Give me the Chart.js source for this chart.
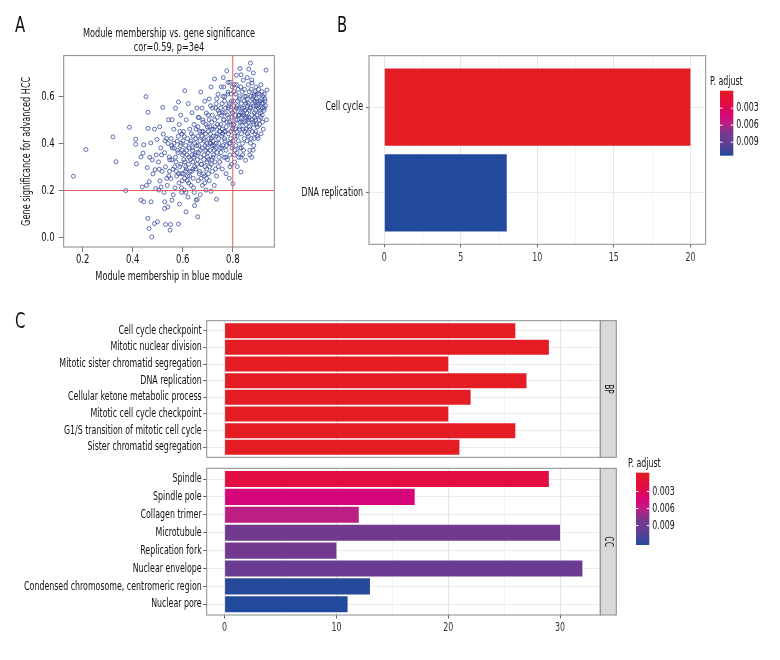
<!DOCTYPE html>
<html>
<head>
<meta charset="utf-8">
<script src="https://cdn.jsdelivr.net/npm/chart.js@4.4.1/dist/chart.umd.min.js"></script>
<style>
  body { margin: 0; background: #fff; }
  #fig { position: relative; width: 780px; height: 660px; font-family: "DejaVu Sans Condensed", "DejaVu Sans", sans-serif; }
  #fig canvas { position: absolute; }
  .tag { position: absolute; font-size: 22px; color: #111; line-height: 1; transform: scaleX(0.75); transform-origin: left top; }
</style>
</head>
<body>
<div id="fig">
  <canvas id="scatterA" width="290" height="295" style="left:0;top:0"></canvas>
  <canvas id="keggB" width="490" height="295" style="left:290px;top:0"></canvas>
  <canvas id="goBP" width="780" height="154" style="left:0;top:312px"></canvas>
  <canvas id="goCC" width="780" height="205" style="left:0;top:455px"></canvas>
  <div class="tag" style="left:15px;top:14px">A</div>
  <div class="tag" style="left:337px;top:14px">B</div>
  <div class="tag" style="left:15px;top:310px">C</div>
</div>
<script>
const FONT = '"DejaVu Sans Condensed", "DejaVu Sans", sans-serif';

// ---- panel A: module membership vs gene significance ----
const scatterTitle = ['Module membership vs. gene significance', 'cor=0.59, p=3e4'];
const mmTicks = [0.2, 0.4, 0.6, 0.8];
const gsTicks = [0.0, 0.2, 0.4, 0.6];
const mmCutoff = 0.8;
const gsCutoff = 0.2;
// [module membership, gene significance]
const genePoints = [
  [0.163,0.261],[0.213,0.375],[0.321,0.429],[0.333,0.323],[0.387,0.470],[0.372,0.200],[0.412,0.419],[0.412,0.397],
  [0.415,0.314],[0.433,0.343],[0.438,0.215],[0.441,0.360],
  [0.453,0.601],[0.461,0.534],[0.487,0.462],[0.472,0.403],[0.494,0.352],[0.458,0.298],[0.481,0.271],[0.466,0.238],
  [0.492,0.208],[0.433,0.159],[0.444,0.152],[0.460,0.081],[0.465,0.038],[0.476,0.002],[0.497,0.418],[0.478,0.331],
  [0.489,0.289],[0.455,0.222],[0.473,0.152],[0.487,0.059],[0.444,0.395],[0.461,0.465],[0.499,0.067],[0.468,0.342],
  [0.520,0.555],[0.508,0.472],[0.535,0.422],[0.541,0.401],[0.512,0.382],[0.527,0.361],[0.546,0.343],[0.503,0.322],
  [0.531,0.301],[0.517,0.282],[0.544,0.262],[0.509,0.241],[0.538,0.222],[0.513,0.215],[0.525,0.192],[0.528,0.152],
  [0.527,0.123],[0.540,0.130],[0.531,0.055],[0.549,0.031],[0.551,0.055],[0.522,0.441],[0.548,0.331],[0.506,0.291],
  [0.536,0.252],[0.515,0.352],[0.543,0.502],[0.529,0.412],[0.504,0.202],[0.547,0.282],
  [0.583,0.578],[0.571,0.551],[0.592,0.522],[0.557,0.502],[0.586,0.482],[0.564,0.462],[0.597,0.441],[0.553,0.422],
  [0.578,0.411],[0.591,0.392],[0.566,0.381],[0.581,0.362],[0.599,0.352],[0.556,0.331],[0.573,0.322],[0.588,0.302],
  [0.561,0.291],[0.594,0.272],[0.576,0.262],[0.552,0.251],[0.585,0.232],[0.569,0.212],[0.596,0.192],[0.562,0.182],
  [0.557,0.159],[0.587,0.142],[0.583,0.057],[0.579,0.372],[0.592,0.312],[0.558,0.382],[0.574,0.282],[0.598,0.242],
  [0.565,0.402],[0.589,0.452],
  [0.608,0.626],[0.622,0.571],[0.637,0.532],[0.614,0.502],[0.645,0.482],[0.628,0.462],[0.603,0.452],[0.641,0.432],
  [0.619,0.422],[0.633,0.411],[0.648,0.401],[0.611,0.392],[0.626,0.381],[0.639,0.371],[0.604,0.362],[0.617,0.352],
  [0.644,0.342],[0.631,0.332],[0.609,0.322],[0.623,0.312],[0.648,0.302],[0.614,0.292],[0.636,0.282],[0.602,0.272],
  [0.627,0.262],[0.642,0.252],[0.618,0.242],[0.633,0.222],[0.606,0.202],[0.646,0.192],[0.621,0.172],[0.613,0.109],
  [0.653,0.159],[0.647,0.136],[0.638,0.382],[0.612,0.302],[0.629,0.282],[0.649,0.352],[0.601,0.412],[0.624,0.342],
  [0.640,0.322],[0.607,0.252],[0.635,0.442],
  [0.672,0.621],[0.688,0.581],[0.657,0.552],[0.694,0.531],[0.665,0.512],[0.681,0.492],[0.698,0.472],[0.653,0.462],
  [0.676,0.452],[0.691,0.442],[0.661,0.432],[0.684,0.422],[0.669,0.412],[0.696,0.401],[0.655,0.392],[0.678,0.381],
  [0.692,0.371],[0.663,0.362],[0.685,0.352],[0.671,0.342],[0.659,0.332],[0.697,0.322],[0.674,0.312],[0.689,0.302],
  [0.652,0.292],[0.667,0.282],[0.683,0.272],[0.695,0.252],[0.662,0.242],[0.679,0.222],[0.693,0.202],[0.670,0.182],
  [0.658,0.162],[0.660,0.088],[0.686,0.412],[0.654,0.362],[0.675,0.312],[0.699,0.342],[0.664,0.392],[0.687,0.262],
  [0.668,0.452],[0.680,0.501],[0.696,0.292],
  [0.727,0.676],[0.713,0.642],[0.741,0.611],[0.706,0.591],[0.734,0.571],[0.719,0.552],[0.746,0.532],[0.702,0.522],
  [0.728,0.502],[0.715,0.492],[0.739,0.482],[0.708,0.472],[0.724,0.462],[0.748,0.452],[0.711,0.442],[0.733,0.432],
  [0.704,0.422],[0.721,0.412],[0.744,0.401],[0.717,0.392],[0.731,0.381],[0.709,0.371],[0.737,0.362],[0.723,0.352],
  [0.745,0.342],[0.703,0.332],[0.729,0.322],[0.714,0.312],[0.742,0.302],[0.718,0.282],[0.735,0.262],[0.706,0.242],
  [0.726,0.222],[0.713,0.197],[0.735,0.163],[0.747,0.452],[0.712,0.401],[0.738,0.512],[0.722,0.432],[0.701,0.362],
  [0.749,0.381],[0.716,0.462],[0.732,0.552],[0.743,0.422],[0.707,0.302],[0.725,0.392],
  [0.776,0.711],[0.762,0.682],[0.789,0.662],[0.754,0.642],[0.781,0.621],[0.768,0.601],[0.795,0.582],[0.757,0.571],
  [0.784,0.562],[0.771,0.552],[0.792,0.542],[0.759,0.532],[0.778,0.522],[0.796,0.512],[0.764,0.502],[0.787,0.492],
  [0.752,0.482],[0.774,0.472],[0.799,0.462],[0.766,0.452],[0.783,0.442],[0.756,0.432],[0.791,0.422],[0.769,0.412],
  [0.785,0.401],[0.761,0.392],[0.797,0.381],[0.773,0.372],[0.753,0.362],[0.788,0.352],[0.765,0.342],[0.779,0.332],
  [0.794,0.312],[0.758,0.292],[0.773,0.272],[0.786,0.252],[0.800,0.229],[0.763,0.502],[0.782,0.552],[0.771,0.452],
  [0.798,0.532],[0.755,0.522],[0.793,0.482],[0.767,0.582],[0.780,0.612],[0.790,0.402],[0.760,0.442],
  [0.829,0.721],[0.814,0.692],[0.833,0.694],[0.842,0.671],[0.806,0.652],[0.821,0.632],[0.838,0.622],[0.811,0.612],
  [0.847,0.602],[0.826,0.592],[0.803,0.582],[0.835,0.572],[0.818,0.562],[0.844,0.552],[0.809,0.542],[0.831,0.532],
  [0.823,0.522],[0.848,0.512],[0.813,0.502],[0.837,0.492],[0.805,0.482],[0.827,0.472],[0.841,0.462],[0.816,0.452],
  [0.834,0.442],[0.808,0.432],[0.846,0.422],[0.822,0.412],[0.839,0.401],[0.812,0.392],[0.828,0.382],[0.843,0.372],
  [0.817,0.362],[0.832,0.342],[0.807,0.322],[0.833,0.279],[0.815,0.552],[0.826,0.522],[0.845,0.582],[0.802,0.482],
  [0.836,0.512],[0.819,0.582],[0.849,0.542],[0.810,0.462],[0.824,0.552],[0.840,0.532],[0.804,0.622],[0.830,0.492],
  [0.818,0.302],
  [0.871,0.744],[0.864,0.718],[0.882,0.702],[0.858,0.682],[0.877,0.659],[0.893,0.642],[0.866,0.622],[0.886,0.612],
  [0.854,0.602],[0.879,0.592],[0.897,0.582],[0.862,0.572],[0.884,0.562],[0.869,0.552],[0.891,0.542],[0.856,0.532],
  [0.875,0.522],[0.888,0.512],[0.861,0.502],[0.881,0.492],[0.895,0.482],[0.867,0.472],[0.852,0.462],[0.878,0.452],
  [0.889,0.442],[0.863,0.432],[0.873,0.422],[0.857,0.412],[0.884,0.392],[0.868,0.372],[0.851,0.329],[0.876,0.342],
  [0.887,0.582],[0.872,0.552],[0.896,0.522],[0.859,0.562],[0.883,0.602],[0.894,0.562],[0.865,0.512],[0.898,0.612],
  [0.874,0.632],[0.853,0.482],[0.892,0.452],
  [0.933,0.714],[0.937,0.629],[0.912,0.652],[0.905,0.612],[0.921,0.602],[0.928,0.592],[0.909,0.582],[0.916,0.572],
  [0.931,0.562],[0.903,0.552],[0.925,0.542],[0.918,0.522],[0.935,0.502],[0.907,0.482],[0.922,0.462],[0.913,0.442],
  [0.901,0.422],[0.926,0.552],[0.911,0.532],[0.929,0.582],[0.904,0.572],[0.919,0.492],
  // denser core of the cloud
  [0.556,0.392],[0.571,0.342],[0.593,0.402],[0.604,0.332],[0.616,0.372],[0.629,0.402],[0.641,0.292],[0.606,0.431],
  [0.619,0.262],[0.652,0.422],[0.583,0.272],[0.598,0.372],[0.611,0.282],[0.637,0.352],[0.582,0.432],[0.624,0.232],
  [0.568,0.302],[0.643,0.212],[0.595,0.212],[0.612,0.192],
  [0.661,0.472],[0.677,0.432],[0.689,0.392],[0.702,0.452],[0.714,0.422],[0.726,0.372],[0.738,0.442],[0.657,0.312],
  [0.671,0.372],[0.684,0.332],[0.698,0.382],[0.709,0.402],[0.721,0.342],[0.734,0.402],[0.746,0.472],[0.666,0.272],
  [0.682,0.452],[0.693,0.482],[0.705,0.502],[0.718,0.522],[0.729,0.472],[0.741,0.542],[0.673,0.252],[0.688,0.232],
  [0.703,0.272],[0.716,0.332],[0.731,0.292],[0.748,0.322],[0.662,0.512],[0.677,0.552],[0.711,0.562],[0.736,0.592],
  [0.752,0.552],[0.761,0.602],[0.769,0.532],[0.777,0.492],[0.786,0.572],[0.794,0.612],[0.803,0.562],[0.811,0.522],
  [0.819,0.502],[0.827,0.602],[0.836,0.552],[0.844,0.492],[0.758,0.462],[0.767,0.422],[0.775,0.392],[0.784,0.512],
  [0.792,0.452],[0.801,0.412],[0.809,0.372],[0.817,0.432],[0.826,0.462],[0.834,0.382],[0.842,0.522],[0.849,0.452],
  [0.756,0.382],[0.772,0.342],[0.789,0.302],[0.806,0.352],[0.823,0.342],[0.839,0.352],[0.764,0.642],[0.781,0.662],
  [0.798,0.642],[0.815,0.652],[0.832,0.642],[0.847,0.632],
  [0.852,0.572],[0.859,0.592],[0.866,0.542],[0.873,0.602],[0.880,0.572],[0.887,0.532],[0.894,0.592],[0.901,0.562],
  [0.908,0.542],[0.915,0.592],[0.922,0.572],[0.856,0.512],[0.863,0.492],[0.870,0.462],[0.877,0.502],[0.884,0.482],
  [0.891,0.502],[0.898,0.472],[0.905,0.502],[0.912,0.512],[0.919,0.552],[0.926,0.612],[0.862,0.652],[0.876,0.672],
  [0.889,0.622],[0.903,0.632],[0.917,0.622],[0.858,0.442],[0.871,0.402],[0.885,0.422],[0.899,0.432],[0.868,0.352],
  [0.881,0.372]
];

// ---- panel B: KEGG ----
const keggTerms = ['Cell cycle', 'DNA replication'];
const keggCounts = [20, 8];
const keggPAdjust = [0.0002, 0.0111];
const keggGrid = [0, 2.5, 5, 7.5, 10, 12.5, 15, 17.5, 20];
const keggTicks = [0, 5, 10, 15, 20];

// ---- panel C: GO ----
const bpTerms = ['Cell cycle checkpoint', 'Mitotic nuclear division', 'Mitotic sister chromatid segregation',
  'DNA replication', 'Cellular ketone metabolic process', 'Mitotic cell cycle checkpoint',
  'G1/S transition of mitotic cell cycle', 'Sister chromatid segregation'];
const bpCounts = [26, 29, 20, 27, 22, 20, 26, 21];
const bpPAdjust = [0.00001, 0.00001, 0.00002, 0.00001, 0.00003, 0.00002, 0.00001, 0.00002];
const ccTerms = ['Spindle', 'Spindle pole', 'Collagen trimer', 'Microtubule', 'Replication fork',
  'Nuclear envelope', 'Condensed chromosome, centromeric region', 'Nuclear pore'];
const ccCounts = [29, 17, 12, 30, 10, 32, 13, 11];
const ccPAdjust = [0.0023, 0.0046, 0.0061, 0.0085, 0.0084, 0.0091, 0.0119, 0.0121];
const goGrid = [0, 5, 10, 15, 20, 25, 30];
const goTicks = [0, 10, 20, 30];
const legendBreaks = [0.003, 0.006, 0.009];

// red -> magenta -> purple -> blue, as printed
const fillStops = [
  [0.00, [228, 28, 36]],
  [0.20, [226, 12, 66]],
  [0.38, [214, 6, 122]],
  [0.50, [190, 30, 132]],
  [0.66, [118, 56, 142]],
  [0.80, [100, 62, 146]],
  [1.00, [34, 74, 156]]
];

function fillFor(p, lim) {
  let t = (p - lim[0]) / (lim[1] - lim[0]);
  t = Math.max(0, Math.min(1, t));
  for (let i = 1; i < fillStops.length; i++) {
    const [t1, c1] = fillStops[i];
    if (t <= t1) {
      const [t0, c0] = fillStops[i - 1];
      const f = (t - t0) / (t1 - t0);
      const c = c0.map((v, k) => Math.round(v + (c1[k] - v) * f));
      return `rgb(${c})`;
    }
  }
  return `rgb(${fillStops[fillStops.length - 1][1]})`;
}

const goPAll = bpPAdjust.concat(ccPAdjust);
const goLimits = [Math.min(...goPAll), Math.max(...goPAll)];
const keggLimits = [Math.min(...keggPAdjust), Math.max(...keggPAdjust)];

// The printed figure is set in a condensed face that isn't installed here,
// so canvas text is squeezed along its own baseline (per canvas factor).
const rawFill = CanvasRenderingContext2D.prototype.fillText;
const rawMeasure = CanvasRenderingContext2D.prototype.measureText;
CanvasRenderingContext2D.prototype.fillText = function (text, x, y, maxWidth) {
  const s = this.canvas.squeeze || 1;
  if (s === 1) return rawFill.apply(this, arguments);
  this.save();
  this.translate(x, y);
  this.scale(s, 1);
  if (maxWidth === undefined) rawFill.call(this, text, 0, 0);
  else rawFill.call(this, text, 0, 0, maxWidth / s);
  this.restore();
};
CanvasRenderingContext2D.prototype.measureText = function (text) {
  const m = rawMeasure.call(this, text);
  const s = this.canvas.squeeze || 1;
  if (s === 1) return m;
  return {
    width: m.width * s,
    actualBoundingBoxLeft: m.actualBoundingBoxLeft * s,
    actualBoundingBoxRight: m.actualBoundingBoxRight * s,
    actualBoundingBoxAscent: m.actualBoundingBoxAscent,
    actualBoundingBoxDescent: m.actualBoundingBoxDescent
  };
};

Chart.defaults.font.family = FONT;
Chart.defaults.color = '#111';
Chart.defaults.animation = false;

const panelBox = {
  id: 'panelBox',
  afterDraw(chart, args, o) {
    const a = chart.chartArea;
    const ctx = chart.ctx;
    ctx.save();
    ctx.strokeStyle = o.color || '#8a8a8a';
    ctx.lineWidth = 1;
    ctx.strokeRect(a.left, a.top, a.right - a.left, a.bottom - a.top);
    ctx.restore();
  }
};

const cutoffLines = {
  id: 'cutoffLines',
  afterDatasetsDraw(chart) {
    const {ctx, chartArea: a, scales: {x, y}} = chart;
    const px = x.getPixelForValue(mmCutoff);
    const py = y.getPixelForValue(gsCutoff);
    ctx.save();
    ctx.strokeStyle = '#e05a5a';
    ctx.lineWidth = 1;
    ctx.beginPath();
    ctx.moveTo(px, a.top); ctx.lineTo(px, a.bottom);
    ctx.moveTo(a.left, py); ctx.lineTo(a.right, py);
    ctx.stroke();
    ctx.restore();
  }
};

const facetStrip = {
  id: 'facetStrip',
  afterDraw(chart, args, o) {
    if (!o.label) return;
    const a = chart.chartArea;
    const ctx = chart.ctx;
    ctx.save();
    ctx.fillStyle = '#d9d9d9';
    ctx.fillRect(a.right, a.top, 16, a.bottom - a.top);
    ctx.strokeStyle = '#8a8a8a';
    ctx.strokeRect(a.right, a.top, 16, a.bottom - a.top);
    ctx.translate(a.right + 8, (a.top + a.bottom) / 2);
    ctx.rotate(Math.PI / 2);
    ctx.fillStyle = '#1a1a1a';
    ctx.font = '11.5px ' + FONT;
    ctx.textAlign = 'center';
    ctx.textBaseline = 'middle';
    ctx.fillText(o.label, 0, 0);
    ctx.restore();
  }
};

const pAdjustBar = {
  id: 'pAdjustBar',
  afterDraw(chart, args, o) {
    if (!o.limits) return;
    const ctx = chart.ctx;
    ctx.save();
    const grad = ctx.createLinearGradient(0, o.top, 0, o.top + o.height);
    fillStops.forEach(([t, c]) => grad.addColorStop(t, `rgb(${c})`));
    ctx.fillStyle = grad;
    ctx.fillRect(o.left, o.top, o.width, o.height);
    ctx.font = '12px ' + FONT;
    ctx.fillStyle = '#111';
    ctx.textBaseline = 'bottom';
    ctx.fillText('P. adjust', o.titleX, o.top - 3);
    ctx.textBaseline = 'middle';
    const span = o.limits[1] - o.limits[0];
    legendBreaks.forEach(b => {
      const y = o.top + o.height * (0.025 + 0.95 * (b - o.limits[0]) / span);
      ctx.strokeStyle = '#fff';
      ctx.beginPath();
      ctx.moveTo(o.left, y); ctx.lineTo(o.left + 2.5, y);
      ctx.moveTo(o.left + o.width - 2.5, y); ctx.lineTo(o.left + o.width, y);
      ctx.stroke();
      ctx.fillText(b.toFixed(3), o.left + o.width + 3, y);
    });
    ctx.restore();
  }
};

// panel A
const canvasA = document.getElementById('scatterA');
canvasA.squeeze = 0.79;
new Chart(canvasA, {
  type: 'scatter',
  data: {
    datasets: [{
      data: genePoints.map(([m, g]) => ({x: m, y: g})),
      pointRadius: 2,
      pointBorderWidth: 0.8,
      borderColor: '#3b4e9e',
      backgroundColor: 'rgba(0,0,0,0)'
    }]
  },
  options: {
    responsive: false,
    events: [],
    layout: {padding: {right: 15.7}},
    plugins: {
      legend: {display: false},
      tooltip: {enabled: false},
      title: {
        display: true, text: scatterTitle, fullSize: false, color: '#111',
        font: {size: 11.5, weight: 'normal', lineHeight: 1.2},
        padding: {top: 27, bottom: 1}
      },
      panelBox: {color: '#888'}
    },
    scales: {
      x: {
        type: 'linear', min: 0.124, max: 0.966,
        afterBuildTicks: s => { s.ticks = mmTicks.map(v => ({value: v})); },
        afterFit: s => { s.height = 48; },
        ticks: {callback: v => v.toFixed(1), padding: 1, font: {size: 12}, color: '#111', maxRotation: 0},
        grid: {drawOnChartArea: false, tickLength: 5, color: '#777'},
        border: {display: false},
        title: {display: true, text: 'Module membership in blue module', color: '#111', font: {size: 11.5}, padding: {bottom: 11}}
      },
      y: {
        type: 'linear', min: -0.041, max: 0.776,
        afterBuildTicks: s => { s.ticks = gsTicks.map(v => ({value: v})); },
        afterFit: s => { s.width = 63.7; },
        ticks: {callback: v => v.toFixed(1), padding: 4, font: {size: 12}, color: '#111'},
        grid: {drawOnChartArea: false, tickLength: 5, color: '#777'},
        border: {display: false},
        title: {display: true, text: 'Gene significance for advanced HCC', color: '#111', font: {size: 11.5}, padding: {top: 20}}
      }
    }
  },
  plugins: [panelBox, cutoffLines]
});

// panel B
const canvasB = document.getElementById('keggB');
canvasB.squeeze = 0.73;
new Chart(canvasB, {
  type: 'bar',
  data: {
    datasets: [{
      data: keggCounts.map((c, i) => ({x: c, y: i + 1})),
      backgroundColor: keggPAdjust.map(p => fillFor(p, keggLimits)),
      barPercentage: 0.9,
      categoryPercentage: 1
    }]
  },
  options: {
    indexAxis: 'y',
    responsive: false,
    events: [],
    layout: {padding: {top: 55.7, right: 74.3}},
    plugins: {
      legend: {display: false},
      tooltip: {enabled: false},
      pAdjustBar: {limits: keggLimits, left: 430, top: 90.7, width: 13.3, height: 65, titleX: 420}
    },
    scales: {
      x: {
        type: 'linear', min: -1, max: 21,
        afterBuildTicks: s => { s.ticks = keggGrid.map(v => ({value: v})); },
        afterFit: s => { s.height = 50.7; },
        ticks: {callback: v => keggTicks.includes(v) ? String(v) : '', autoSkip: false, padding: 3, font: {size: 12}, color: '#333', maxRotation: 0},
        grid: {
          color: c => keggTicks.includes(c.tick.value) ? '#e6e6e6' : '#f3f3f3',
          tickColor: c => keggTicks.includes(c.tick.value) ? '#666' : 'rgba(0,0,0,0)',
          tickLength: 3
        },
        border: {display: false}
      },
      y: {
        type: 'linear', reverse: true, offset: false, min: 0.4, max: keggTerms.length + 0.6,
        afterBuildTicks: s => { s.ticks = keggTerms.map((_, i) => ({value: i + 1})); },
        afterFit: s => { s.width = 79; },
        ticks: {callback: v => keggTerms[v - 1], autoSkip: false, padding: 3, font: {size: 12}, color: '#111'},
        grid: {offset: false, color: '#ececec', tickColor: '#666', tickLength: 3},
        border: {display: false}
      }
    }
  },
  plugins: [panelBox, pAdjustBar]
});

// panel C, one chart per facet
function goFacet(canvasId, terms, counts, pAdj, facet, withAxis, legend) {
  const canvas = document.getElementById(canvasId);
  canvas.squeeze = 0.73;
  return new Chart(canvas, {
    type: 'bar',
    data: {
      datasets: [{
        data: counts.map((c, i) => ({x: c, y: i + 1})),
        backgroundColor: pAdj.map(p => fillFor(p, goLimits)),
        barPercentage: 0.9,
        categoryPercentage: 1
      }]
    },
    options: {
      indexAxis: 'y',
      responsive: false,
      events: [],
      layout: {padding: {top: withAxis ? 13.3 : 4, right: 179.7}},
      plugins: {
        legend: {display: false},
        tooltip: {enabled: false},
        facetStrip: {label: facet},
        pAdjustBar: legend || {}
      },
      scales: {
        x: {
          type: 'linear', min: -1.6, max: 33.6,
          afterBuildTicks: s => { s.ticks = goGrid.map(v => ({value: v})); },
          afterFit: s => { s.height = withAxis ? 45 : 3.3; },
          ticks: {display: withAxis, callback: v => goTicks.includes(v) ? String(v) : '', autoSkip: false, padding: 2.5, font: {size: 12}, color: '#333', maxRotation: 0},
          grid: {
            color: c => goTicks.includes(c.tick.value) ? '#e6e6e6' : '#f3f3f3',
            tickColor: c => goTicks.includes(c.tick.value) ? '#666' : 'rgba(0,0,0,0)',
            drawTicks: withAxis,
            tickLength: 3.5
          },
          border: {display: false}
        },
        y: {
          type: 'linear', reverse: true, offset: false, min: 0.4, max: terms.length + 0.6,
          afterBuildTicks: s => { s.ticks = terms.map((_, i) => ({value: i + 1})); },
          afterFit: s => { s.width = 206.7; },
          ticks: {callback: v => terms[v - 1], autoSkip: false, padding: 1.5, font: {size: 12}, color: '#111'},
          grid: {offset: false, color: '#ececec', tickColor: '#666', tickLength: 3.5},
          border: {display: false}
        }
      }
    },
    plugins: [panelBox, facetStrip, pAdjustBar]
  });
}

goFacet('goBP', bpTerms, bpCounts, bpPAdjust, 'BP', false, null);
goFacet('goCC', ccTerms, ccCounts, ccPAdjust, 'CC', true,
  {limits: goLimits, left: 636, top: 17.7, width: 13.3, height: 72.3, titleX: 628});
</script>
</body>
</html>
